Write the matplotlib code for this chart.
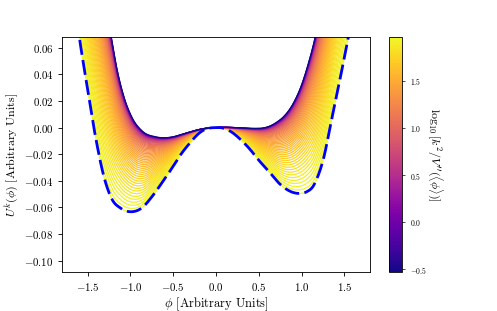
import numpy as np
import matplotlib
matplotlib.use("Agg")
import matplotlib.pyplot as plt
from matplotlib.colors import Normalize
from matplotlib.cm import ScalarMappable

plt.rcParams['font.family'] = 'serif'
plt.rcParams['font.serif'] = ['cmr10', 'DejaVu Serif']
plt.rcParams['mathtext.fontset'] = 'cm'
plt.rcParams['axes.formatter.use_mathtext'] = True

# ---- data ----
# bare potential (dashed blue)
phi_bare = [-1.66, -1.597, -1.507, -1.41, -1.312, -1.215, -1.12, -1.0, -0.864, -0.75,
            -0.631, -0.5, -0.397, -0.319, -0.164, -0.07, 0.0, 0.05, 0.164, 0.28,
            0.397, 0.5, 0.631, 0.74, 0.826, 0.9, 0.985, 1.06, 1.137, 1.2, 1.254,
            1.352, 1.449, 1.538, 1.6]
u_bare = [0.096, 0.0675, 0.0312, -0.0063, -0.0364, -0.0539, -0.0603, -0.0632, -0.0602, -0.052,
          -0.0414, -0.029, -0.0189, -0.0126, -0.0026, -0.0003, 0.0, 0.0, -0.0026, -0.0085,
          -0.0163, -0.0245, -0.0339, -0.042, -0.0464, -0.0487, -0.0494, -0.0482, -0.0439, -0.035, -0.0239,
          0.0063, 0.0363, 0.065, 0.086]
# infrared (lowest k) potential (dark solid)
phi_ir = [-1.7, -1.5, -1.35, -1.223, -1.157, -1.079, -0.981, -0.864, -0.709, -0.592,
          -0.5, -0.397, -0.28, -0.164, -0.07, 0.0, 0.1, 0.2, 0.319, 0.45, 0.55,
          0.631, 0.72, 0.787, 0.91, 1.0, 1.07, 1.16, 1.3, 1.45, 1.7]
u_ir = [0.30, 0.17, 0.115, 0.0675, 0.0438, 0.0237, 0.0075, -0.0025, -0.0069, -0.0076,
        -0.0069, -0.005, -0.0028, -0.001, -0.0002, 0.0, 0.0002, 0.0001, -0.0003, -0.0006, -0.0003,
        0.0012, 0.0045, 0.008, 0.019, 0.032, 0.046, 0.068, 0.115, 0.18, 0.31]
# colour scale range: log10[k^2 / V''(<phi>)]
log_ratio_range = [-0.53, 1.97]
n_curves = 50
flow_power = 1.8


def hermite(xp, yp, x):
    xp = np.asarray(xp, float); yp = np.asarray(yp, float)
    m = np.gradient(yp, xp)
    xc = np.clip(x, xp[0], xp[-1])
    i = np.clip(np.searchsorted(xp, xc) - 1, 0, len(xp) - 2)
    h = xp[i + 1] - xp[i]
    t = (xc - xp[i]) / h
    h00 = 2 * t**3 - 3 * t**2 + 1
    h10 = t**3 - 2 * t**2 + t
    h01 = -2 * t**3 + 3 * t**2
    h11 = t**3 - t**2
    y = h00 * yp[i] + h10 * h * m[i] + h01 * yp[i + 1] + h11 * h * m[i + 1]
    y = np.where(x < xp[0], yp[0] + m[0] * (x - xp[0]), y)
    y = np.where(x > xp[-1], yp[-1] + m[-1] * (x - xp[-1]), y)
    return y


phi = np.linspace(-1.66, 1.6, 800)
Vb = hermite(phi_bare, u_bare, phi)
Vi = hermite(phi_ir, u_ir, phi)

tmin, tmax = log_ratio_range
kmax = 10 ** ((tmax - tmin) / 2)
ks = np.linspace(1.0, kmax, n_curves)
tvals = 2 * np.log10(ks) + tmin
fr = (kmax**flow_power - ks**flow_power) / (kmax**flow_power - 1.0)

cmap = plt.get_cmap('plasma')
norm = Normalize(tmin, tmax)

fig = plt.figure(figsize=(4.97, 3.11), dpi=100)
ax = fig.add_axes([62 / 497, (311 - 272.3) / 311, (370 - 62) / 497, (272.3 - 36.7) / 311])
cax = fig.add_axes([389.3 / 497, (311 - 272.3) / 311, 12.4 / 497, (272.3 - 36.7) / 311])

for k, t, f in zip(ks[::-1], tvals[::-1], fr[::-1]):
    ax.plot(phi, Vb + f * (Vi - Vb), color=cmap(norm(t)), lw=0.9)
ax.plot(phi, Vb, color='blue', lw=2.0, ls='--', dashes=(5.4, 1.9))

ax.set_xlim(-1.8, 1.8)
ax.set_ylim(-0.1087, 0.0683)
ax.set_xticks([-1.5, -1.0, -0.5, 0.0, 0.5, 1.0, 1.5])
ax.set_yticks([-0.10, -0.08, -0.06, -0.04, -0.02, 0.00, 0.02, 0.04, 0.06])
ax.tick_params(labelsize=7.8, length=2.7, width=0.62)
for s in ax.spines.values():
    s.set_linewidth(0.62)
ax.set_xlabel(r'$\phi$ [Arbitrary Units]', fontsize=9, labelpad=1.5)
ax.set_ylabel(r'$U^k(\phi)$ [Arbitrary Units]', fontsize=8.6, labelpad=2.5)

sm = ScalarMappable(norm=norm, cmap=cmap)
cb = fig.colorbar(sm, cax=cax)
cb.set_ticks([-0.5, 0.0, 0.5, 1.0, 1.5])
cb.ax.tick_params(labelsize=5.5, length=2.2, width=0.5)
cb.outline.set_linewidth(0.62)
cb.set_label(r"$\log_{10}[k^2/V''(\langle\phi\rangle)]$", rotation=270, fontsize=8.6, labelpad=13)

fig.savefig('out.png', dpi=100)
